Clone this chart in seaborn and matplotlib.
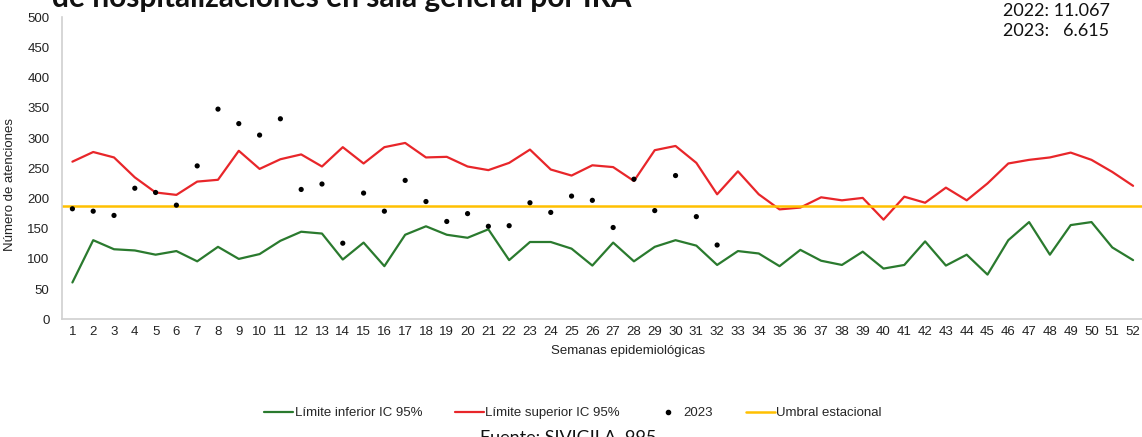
"""
Canal endémico de hospitalizaciones en sala general por IRA (semanas 1-52).
"""

import numpy as np
import pandas as pd
import matplotlib.pyplot as plt
from matplotlib.lines import Line2D
import seaborn as sns

semanas = list(range(1, 53))

limite_inferior = [
    61, 131, 116, 114, 107, 113, 96, 120, 100, 108, 130, 145, 142,
    99, 127, 88, 140, 154, 140, 135, 149, 98, 128, 128, 117, 89,
    127, 96, 120, 131, 122, 90, 113, 109, 88, 115, 97, 90, 112,
    84, 90, 129, 89, 107, 74, 131, 161, 107, 156, 161, 119, 98,
]

limite_superior = [
    261, 277, 268, 235, 210, 206, 228, 231, 279, 249, 265, 273, 253,
    285, 258, 285, 292, 268, 269, 253, 247, 259, 281, 248, 238, 255,
    252, 229, 280, 287, 259, 207, 245, 207, 182, 185, 202, 197, 201,
    165, 203, 193, 218, 197, 225, 258, 264, 268, 276, 264, 244, 221,
]

semanas_2023 = list(range(1, 33))
casos_2023 = [
    183, 179, 172, 217, 210, 189, 254, 348, 324, 305, 332, 215, 224,
    126, 209, 179, 230, 195, 162, 175, 154, 155, 193, 177, 204, 197,
    152, 232, 180, 238, 170, 123,
]

umbral = 188

RED = "#e8262a"
GREEN = "#2a7a2e"
YELLOW = "#ffc000"
SPINE = "#d0d0d0"
FS = 9.5

sns.set_style("white")
plt.rcParams["font.family"] = ["Liberation Sans", "DejaVu Sans"]

fig = plt.figure(figsize=(11.42, 4.37), dpi=100)
ax = fig.add_axes([0.0543, 0.2693, 0.947, 0.6911])

bandas = pd.DataFrame({
    "semana": semanas,
    "inferior": limite_inferior,
    "superior": limite_superior,
})
obs = pd.DataFrame({"semana": semanas_2023, "casos": casos_2023})

sns.lineplot(data=bandas, x="semana", y="inferior", color=GREEN, linewidth=1.6, ax=ax)
sns.lineplot(data=bandas, x="semana", y="superior", color=RED, linewidth=1.6, ax=ax)
ax.axhline(umbral, color=YELLOW, linewidth=1.8)
sns.scatterplot(data=obs, x="semana", y="casos", color="black", s=14,
                edgecolor="none", ax=ax, zorder=5)

ax.set_xlim(0.5, 52.5)
ax.set_ylim(0, 500)
ax.set_yticks(np.arange(0, 501, 50))
ax.set_xticks(semanas)
ax.set_xticklabels([str(s) for s in semanas])
ax.tick_params(axis="both", length=0, labelsize=FS, colors="#222222")
ax.tick_params(axis="x", pad=5)
ax.tick_params(axis="y", pad=9)

for side in ["top", "right"]:
    ax.spines[side].set_visible(False)
for side in ["left", "bottom"]:
    ax.spines[side].set_color(SPINE)
    ax.spines[side].set_linewidth(1.2)

ax.set_xlabel("Semanas epidemiológicas", fontsize=FS, color="#222222")
ax.set_ylabel("Número de atenciones", fontsize=FS, color="#222222")
ax.xaxis.set_label_coords(0.5236, -0.085)
ax.yaxis.set_label_coords(-0.043, 0.445)

handles = [
    Line2D([], [], color=GREEN, linewidth=1.6),
    Line2D([], [], color=RED, linewidth=1.6),
    Line2D([], [], color="black", marker="o", markersize=3, linestyle="none"),
    Line2D([], [], color=YELLOW, linewidth=1.8),
]
labels = ["Límite inferior IC 95%", "Límite superior IC 95%", "2023", "Umbral estacional"]
fig.legend(handles, labels, loc="center", bbox_to_anchor=(573 / 1142, 1 - 413 / 437),
           ncol=4, frameon=False, fontsize=FS, handlelength=2.2, handletextpad=0.1,
           columnspacing=2.5)

# titulo recortado en la parte superior
fig.text(52 / 1142, 1 - 7.5 / 437, "de hospitalizaciones en sala general por IRA",
         fontsize=21.5, fontweight="bold", family="Lato", ha="left", va="baseline",
         color="#111111")

fig.text(1003 / 1142, 1 - 11 / 437, "2022: 11.067", fontsize=13, family="Lato",
         ha="left", va="center", color="#111111")
fig.text(1003 / 1142, 1 - 31 / 437, "2023:   6.615", fontsize=13, family="Lato",
         ha="left", va="center", color="#111111")

fig.text(480 / 1142, 1 - 430 / 437, "Fuente: SIVIGILA, 995", fontsize=13,
         family="Lato", ha="left", va="top", color="#111111")

fig.savefig("out.png", dpi=100)
plt.close(fig)
